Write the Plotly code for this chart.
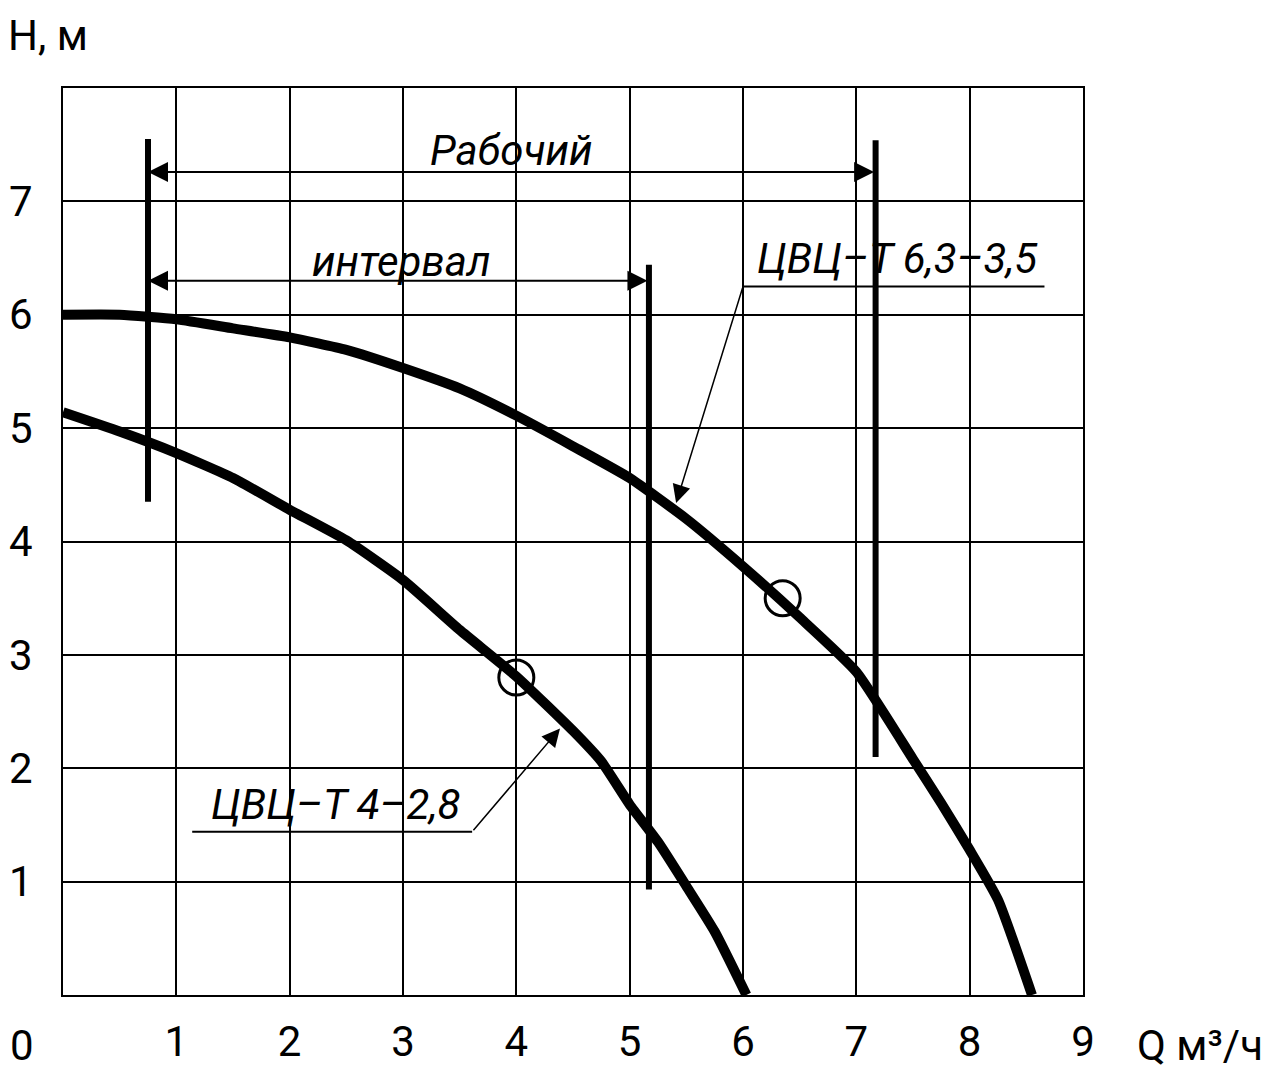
import plotly.graph_objects as go

# Data
q_big = [0, 0.5, 1, 1.5, 2, 2.5, 3, 3.5, 4, 4.5, 5, 5.5, 6, 6.5, 7, 7.5, 7.75, 8, 8.25, 8.55]
h_big = [6.0, 6.0, 5.96, 5.88, 5.80, 5.69, 5.53, 5.35, 5.11, 4.84, 4.56, 4.20, 3.78, 3.33, 2.85, 2.08, 1.69, 1.28, 0.84, 0]
q_small = [0, 0.5, 1, 1.5, 2, 2.5, 3, 3.5, 4, 4.5, 4.75, 5, 5.25, 5.5, 5.75, 6.03]
h_small = [5.14, 4.97, 4.78, 4.56, 4.28, 4.01, 3.66, 3.22, 2.81, 2.33, 2.06, 1.68, 1.35, 0.96, 0.56, 0]
op_q = [6.35, 4.0]
op_h = [3.5, 2.8]
# working-range limit bars: (Q, H bottom, H top)
lim_q = [0.75, 5.17, 7.17]
lim_h_bot = [4.35, 0.93, 2.1]
lim_h_top = [7.55, 6.44, 7.54]
range_h_work = 7.26
range_h_int = 6.3
x_ticks = [1, 2, 3, 4, 5, 6, 7, 8, 9]
y_ticks = [1, 2, 3, 4, 5, 6, 7]
label_big = "ЦВЦ–Т 6,3–3,5"
label_small = "ЦВЦ–Т 4–2,8"

FONT = "Roboto, DejaVu Sans, sans-serif"

# page body has an 8px margin; the figure is sized to fit inside the window
OFF = 8
W, H = 1285 - OFF, 1071 - OFF
PL, PR, PT, PB = 63, 1083, 88, 995   # plot area in window pixels
L, T = PL - OFF, PT - OFF
R = W - (PL - OFF) - (PR - PL)
B = H - (PT - OFF) - (PB - PT)
pw, ph = PR - PL, PB - PT

def px2paper(px, py):
    return (px - PL) / pw, (PB - py) / ph

fig = go.Figure()
fig.add_trace(go.Scatter(x=q_big, y=h_big, mode="lines", line=dict(color="black", width=10, shape="spline", smoothing=0.5)))
fig.add_trace(go.Scatter(x=q_small, y=h_small, mode="lines", line=dict(color="black", width=10, shape="spline", smoothing=0.5)))
for q, b, t in zip(lim_q, lim_h_bot, lim_h_top):
    fig.add_trace(go.Scatter(x=[q, q], y=[b, t], mode="lines", line=dict(color="black", width=6)))
fig.add_trace(go.Scatter(x=op_q, y=op_h, mode="markers",
                         marker=dict(symbol="circle-open", size=35, color="black", line=dict(width=3, color="black"))))

# leader underlines
fig.add_trace(go.Scatter(x=[8.66, 6.0], y=[6.25, 6.25], mode="lines", line=dict(color="black", width=2)))
fig.add_trace(go.Scatter(x=[1.14, 3.61], y=[1.44, 1.44], mode="lines", line=dict(color="black", width=2)))

anns = []
arr = dict(xref="x", yref="y", axref="x", ayref="y", text="", showarrow=True, arrowcolor="black")
# dimension arrows
anns.append(dict(arr, x=lim_q[0], y=range_h_work, ax=lim_q[2], ay=range_h_work, arrowhead=2, startarrowhead=2,
                 arrowside="end+start", arrowwidth=2, arrowsize=2, startarrowsize=2))
anns.append(dict(arr, x=lim_q[0], y=range_h_int, ax=lim_q[1], ay=range_h_int, arrowhead=2, startarrowhead=2,
                 arrowside="end+start", arrowwidth=2, arrowsize=2, startarrowsize=2))
# leaders
anns.append(dict(arr, x=5.41, y=4.34, ax=6.0, ay=6.25, arrowhead=2, arrowwidth=1.5, arrowsize=2.4))
anns.append(dict(arr, x=4.385, y=2.35, ax=3.61, ay=1.44, arrowhead=2, arrowwidth=1.5, arrowsize=2.4))
# texts
tf = dict(family=FONT, size=42, color="black")
anns.append(dict(x=3.96, y=7.45, xref="x", yref="y", text="<i>Рабочий</i>", showarrow=False, font=tf))
anns.append(dict(x=2.98, y=6.47, xref="x", yref="y", text="<i>интервал</i>", showarrow=False, font=tf))
anns.append(dict(x=7.36, y=6.5, xref="x", yref="y", text="<i>" + label_big + "</i>", showarrow=False, font=tf))
anns.append(dict(x=2.4, y=1.68, xref="x", yref="y", text="<i>" + label_small + "</i>", showarrow=False, font=tf))
# axis titles and origin (window pixel positions)
af = dict(family=FONT, size=42, color="black")
for txt, (px, py) in [("H, м", (48, 36)), ("0", (22, 1045)), ("Q м³/ч", (1200, 1045))]:
    x, y = px2paper(px, py)
    anns.append(dict(x=x, y=y, xref="paper", yref="paper", text=txt, showarrow=False, font=af,
                     xanchor="center", yanchor="middle"))

fig.update_layout(
    width=W, height=H,
    margin=dict(l=L, r=R, t=T, b=B, autoexpand=False),
    paper_bgcolor="white", plot_bgcolor="white",
    showlegend=False,
    annotations=anns,
    xaxis=dict(range=[0, 9], tickvals=x_ticks, showgrid=True, gridcolor="black", gridwidth=2,
               showline=True, linecolor="black", linewidth=2, mirror=True, zeroline=False,
               ticks="", tickfont=af, ticklabelstandoff=9, fixedrange=True),
    yaxis=dict(range=[0, 8], tickvals=y_ticks, showgrid=True, gridcolor="black", gridwidth=2,
               showline=True, linecolor="black", linewidth=2, mirror=True, zeroline=False,
               ticks="", tickfont=af, ticklabelstandoff=20, fixedrange=True),
)
fig.write_html("out.html")
